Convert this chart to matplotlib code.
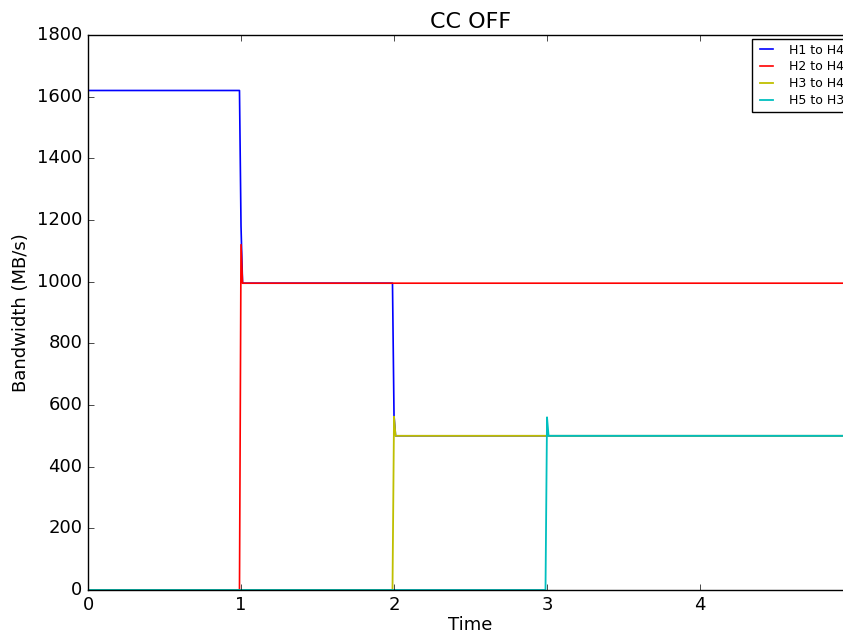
import matplotlib
matplotlib.use('Agg')
import matplotlib.pyplot as plt

plt.style.use('classic')
plt.rcParams['font.family'] = ['DejaVu Sans']

# breakpoints of each flow (time, MB/s)
h1_t = [0.0, 0.99, 1.0, 1.01, 1.99, 2.0, 2.01, 5.0]
h1_v = [1620, 1620, 1180, 995, 995, 565, 500, 500]
h2_t = [0.0, 0.99, 1.0, 1.01, 5.0]
h2_v = [0, 0, 1120, 995, 995]
h3_t = [0.0, 1.99, 2.0, 2.01, 5.0]
h3_v = [0, 0, 562, 500, 500]
h5_t = [0.0, 2.99, 3.0, 3.01, 5.0]
h5_v = [0, 0, 560, 500, 500]

fig = plt.figure(figsize=(8.43, 6.35), dpi=100, facecolor='white')
ax = fig.add_axes([0.1044, 0.0709, 0.9075, 0.874])

ax.plot(h1_t, h1_v, color='b', lw=1.2, label='H1 to H4')
ax.plot(h2_t, h2_v, color='r', lw=1.2, label='H2 to H4')
ax.plot(h3_t, h3_v, color='y', lw=1.3, label='H3 to H4')
ax.plot(h5_t, h5_v, color='c', lw=1.3, label='H5 to H3')

ax.set_xlim(0, 5)
ax.set_ylim(0, 1800)
ax.set_xticks([0, 1, 2, 3, 4])
ax.set_yticks(range(0, 1801, 200))
ax.tick_params(labelsize=13)
ax.set_title('CC OFF', fontsize=16)
ax.set_xlabel('Time', fontsize=13, labelpad=2)
ax.set_ylabel('Bandwidth (MB/s)', fontsize=13)

leg = ax.legend(loc='upper right', prop={'size': 9}, fancybox=False,
                borderaxespad=0.3, handlelength=1.6, handletextpad=1.0,
                labelspacing=0.3)
leg.get_frame().set_edgecolor('black')

fig.savefig('out.png', dpi=100, facecolor='white')
